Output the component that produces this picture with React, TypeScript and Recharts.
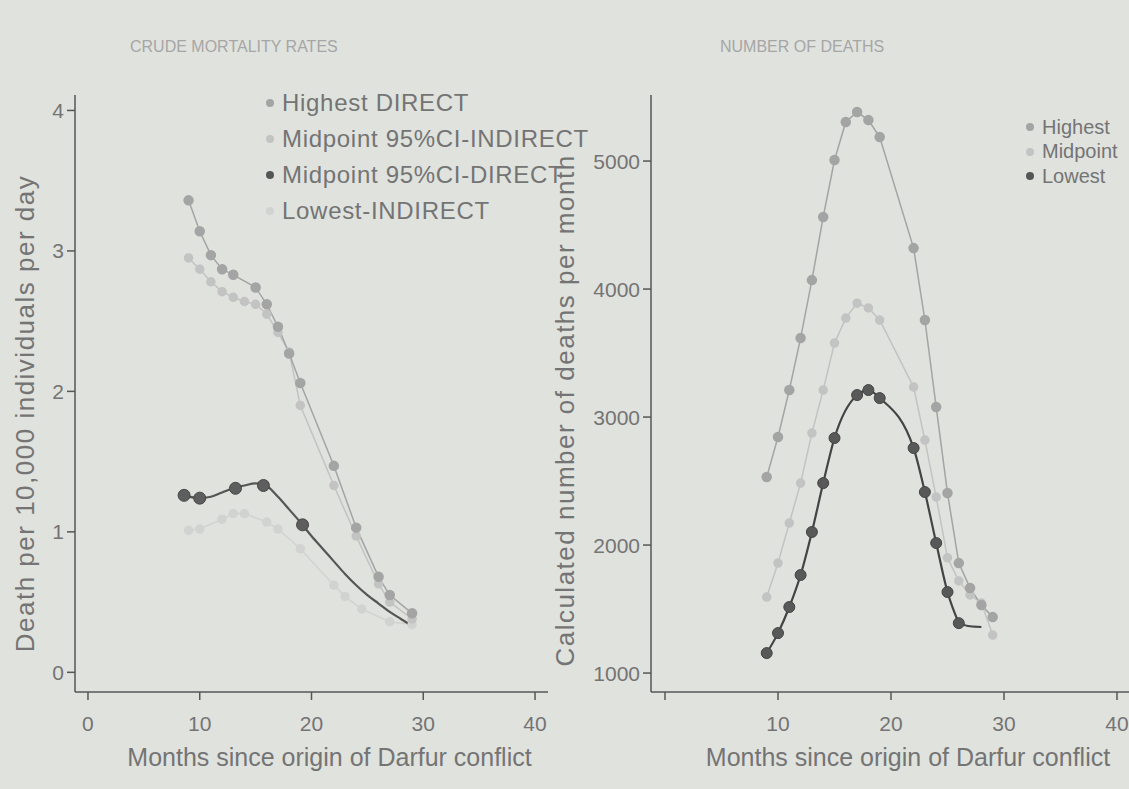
import React from 'react';
import { ComposedChart, Line, XAxis, YAxis, Label } from 'recharts';

// crude mortality rates (deaths per 10,000 per day)
const rateHighMonths = [9, 10, 11, 12, 13, 15, 16, 17, 18, 19, 22, 24, 26, 27, 29];
const rateHighValues = [3.36, 3.14, 2.97, 2.87, 2.83, 2.74, 2.62, 2.46, 2.27, 2.06, 1.47, 1.03, 0.68, 0.55, 0.42];

const rateMidIndMonths = [9, 10, 11, 12, 13, 14, 15, 16, 17, 18, 19, 22, 24, 26, 27, 29];
const rateMidIndValues = [2.95, 2.87, 2.78, 2.71, 2.67, 2.64, 2.62, 2.55, 2.42, 2.28, 1.9, 1.33, 0.97, 0.63, 0.5, 0.38];

const rateMidDirMonths = [8.6, 10, 13.2, 15.7, 19.2];
const rateMidDirValues = [1.26, 1.24, 1.31, 1.33, 1.05];

// smoothed curve through the DIRECT midpoints
const rateFitMonths = [8.6, 10, 11, 12, 13, 14, 15, 15.7, 17, 18, 19.2, 20, 21, 22, 23, 24, 25, 26, 27, 28, 28.8];
const rateFitValues = [1.26, 1.24, 1.25, 1.28, 1.31, 1.33, 1.345, 1.34, 1.25, 1.16, 1.05, 0.97, 0.88, 0.79, 0.7, 0.62, 0.55, 0.49, 0.43, 0.38, 0.34];

const rateLowMonths = [9, 10, 12, 13, 14, 16, 17, 19, 22, 23, 24.5, 27, 29];
const rateLowValues = [1.01, 1.02, 1.09, 1.13, 1.13, 1.07, 1.02, 0.88, 0.62, 0.54, 0.45, 0.36, 0.34];

// number of deaths per month
const deathMonths = [9, 10, 11, 12, 13, 14, 15, 16, 17, 18, 19, 22, 23, 24, 25, 26, 27, 28, 29];
const deathHighValues = [2531, 2844, 3211, 3617, 4070, 4563, 5008, 5305, 5383, 5320, 5188, 4320, 3758, 3078, 2406, 1859, 1664, 1531, 1437];
const deathMidValues = [1594, 1859, 2172, 2484, 2875, 3211, 3578, 3773, 3890, 3852, 3758, 3234, 2820, 2375, 1900, 1720, 1610, 1547, 1297];

const deathLowMonths = [9, 10, 11, 12, 13, 14, 15, 17, 18, 19, 22, 23, 24, 25, 26];
const deathLowValues = [1156, 1312, 1516, 1766, 2102, 2484, 2836, 3172, 3211, 3148, 2758, 2414, 2016, 1633, 1390];
const deathLowTailMonths = [26, 27, 28];
const deathLowTailValues = [1390, 1365, 1360];

const monthTicks = [0, 10, 20, 30, 40];
const rateTicks = [0, 1, 2, 3, 4];
const deathTicks = [1000, 2000, 3000, 4000, 5000];

const rateLegend = ['Highest DIRECT', 'Midpoint 95%CI-INDIRECT', 'Midpoint 95%CI-DIRECT', 'Lowest-INDIRECT'];
const deathLegend = ['Highest', 'Midpoint', 'Lowest'];

const pairs = (xs: number[], ys: number[]) => xs.map((x, i) => ({ x, y: ys[i] }));

const AXIS = '#565656';
const TEXT = '#747474';
const C_HIGH = '#a4a4a4';
const C_MID = '#c3c3c3';
const C_DARK = '#555555';
const C_LOW = '#d2d3d1';

const axisLine = { stroke: AXIS, strokeWidth: 1.5 };
const tickStyle = { fontSize: 21, fill: TEXT };

// axis titles drawn from the label viewBox, nudged like the printed figure
const xTitle = (text: string, dx: number) => (props: any) => {
  const { x, y, width, height } = props.viewBox;
  return (
    <text x={x + width / 2 + dx} y={y + height - 6} textAnchor="middle" fontSize={25} fill={TEXT}>
      {text}
    </text>
  );
};

const yTitle = (text: string, dy: number) => (props: any) => {
  const { x, y, height } = props.viewBox;
  const cx = x + 15;
  const cy = y + height / 2 + dy;
  return (
    <text x={cx} y={cy} textAnchor="middle" dominantBaseline="central" fontSize={26} letterSpacing={1.5}
      fill={TEXT} transform={`rotate(-90 ${cx} ${cy})`}>
      {text}
    </text>
  );
};

const LegendBlock = ({ items, colors, left, top, fontSize, rowHeight, spacing }: any) => (
  <div style={{ position: 'absolute', left, top, fontSize, color: TEXT, letterSpacing: spacing }}>
    {items.map((label: string, i: number) => (
      <div key={label} style={{ display: 'flex', alignItems: 'center', height: rowHeight, whiteSpace: 'nowrap' }}>
        <span style={{ width: 8, height: 8, borderRadius: '50%', background: colors[i], marginRight: 8, flex: 'none' }} />
        {label}
      </div>
    ))}
  </div>
);

export default function App() {
  return (
    <div
      style={{
        position: 'absolute', left: 0, top: 0, width: 1129, height: 789, overflow: 'hidden',
        background: '#e0e2de', fontFamily: '"Liberation Sans", Arial, sans-serif',
      }}
    >
      <div style={{ position: 'absolute', left: 130, top: 38, fontSize: 16, color: '#a6a6a6' }}>CRUDE MORTALITY RATES</div>
      <div style={{ position: 'absolute', left: 720, top: 38, fontSize: 16, color: '#a6a6a6' }}>NUMBER OF DEATHS</div>

      {/* left panel */}
      <div style={{ position: 'absolute', left: 0, top: 0 }}>
        <ComposedChart width={590} height={789} margin={{ top: 95, right: 42, bottom: 17, left: 10 }}>
          <XAxis type="number" dataKey="x" domain={[-1.16, 41.16]} allowDataOverflow ticks={monthTicks}
            height={80} tick={tickStyle} tickSize={8} tickMargin={16} axisLine={axisLine} tickLine={axisLine}>
            <Label content={xTitle('Months since origin of Darfur conflict', 18)} />
          </XAxis>
          <YAxis type="number" domain={[-0.14, 4.11]} allowDataOverflow ticks={rateTicks} width={65}
            tick={tickStyle} tickSize={8} tickMargin={3} axisLine={axisLine} tickLine={axisLine}>
            <Label content={yTitle('Death per 10,000 individuals per day', 20)} />
          </YAxis>
          <Line data={pairs(rateLowMonths, rateLowValues)} dataKey="y" stroke={C_LOW} strokeWidth={1.5}
            dot={{ r: 4, fill: C_LOW, stroke: C_LOW }} isAnimationActive={false} />
          <Line data={pairs(rateMidIndMonths, rateMidIndValues)} dataKey="y" stroke={C_MID} strokeWidth={1.5}
            dot={{ r: 4, fill: C_MID, stroke: C_MID }} isAnimationActive={false} />
          <Line data={pairs(rateHighMonths, rateHighValues)} dataKey="y" stroke={C_HIGH} strokeWidth={1.5}
            dot={{ r: 4.5, fill: C_HIGH, stroke: C_HIGH }} isAnimationActive={false} />
          <Line data={pairs(rateFitMonths, rateFitValues)} dataKey="y" type="monotone" stroke={C_DARK} strokeWidth={2.2}
            dot={false} isAnimationActive={false} />
          <Line data={pairs(rateMidDirMonths, rateMidDirValues)} dataKey="y" stroke="none"
            dot={{ r: 6, fill: '#5e5e5e', stroke: '#474747', strokeWidth: 1 }} isAnimationActive={false} />
        </ComposedChart>
      </div>

      {/* right panel */}
      <div style={{ position: 'absolute', left: 540, top: 0 }}>
        <ComposedChart width={600} height={789} margin={{ top: 95, right: 9, bottom: 17, left: 10 }}>
          <XAxis type="number" dataKey="x" domain={[-1.24, 41.24]} allowDataOverflow ticks={monthTicks}
            tickFormatter={(v: number) => (v === 0 ? '' : String(v))}
            height={80} tick={tickStyle} tickSize={8} tickMargin={16} axisLine={axisLine} tickLine={axisLine}>
            <Label content={xTitle('Months since origin of Darfur conflict', 17)} />
          </XAxis>
          <YAxis type="number" domain={[852, 5516]} allowDataOverflow ticks={deathTicks} width={101}
            tick={tickStyle} tickSize={8} tickMargin={3} axisLine={axisLine} tickLine={axisLine}>
            <Label content={yTitle('Calculated number of deaths per month', 17)} />
          </YAxis>
          <Line data={pairs(deathMonths, deathMidValues)} dataKey="y" stroke={C_MID} strokeWidth={1.5}
            dot={{ r: 4, fill: C_MID, stroke: C_MID }} isAnimationActive={false} />
          <Line data={pairs(deathMonths, deathHighValues)} dataKey="y" stroke={C_HIGH} strokeWidth={1.5}
            dot={{ r: 4.5, fill: C_HIGH, stroke: C_HIGH }} isAnimationActive={false} />
          <Line data={pairs(deathLowTailMonths, deathLowTailValues)} dataKey="y" type="monotone" stroke="#444"
            strokeWidth={2} dot={false} isAnimationActive={false} />
          <Line data={pairs(deathLowMonths, deathLowValues)} dataKey="y" type="monotone" stroke="#444" strokeWidth={2.2}
            dot={{ r: 5.5, fill: '#585858', stroke: '#444', strokeWidth: 1 }} isAnimationActive={false} />
        </ComposedChart>
      </div>

      <LegendBlock items={rateLegend} colors={[C_HIGH, C_MID, C_DARK, C_LOW]} left={266} top={85} fontSize={24}
        rowHeight={36} spacing={0.7} />
      <LegendBlock items={deathLegend} colors={[C_HIGH, C_MID, C_DARK]} left={1026} top={115} fontSize={20}
        rowHeight={24.5} spacing={0} />
    </div>
  );
}
